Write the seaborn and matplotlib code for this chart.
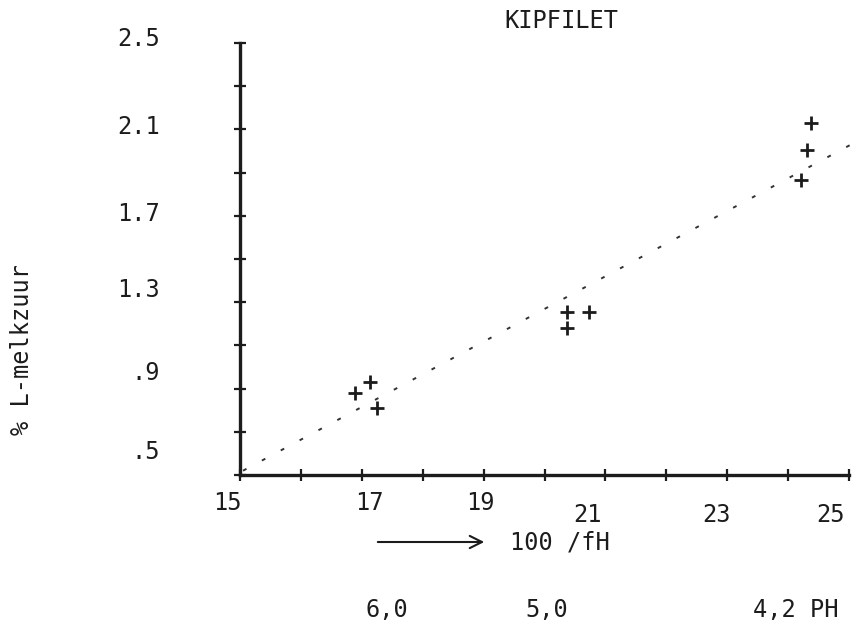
import matplotlib
matplotlib.use("Agg")
import matplotlib.pyplot as plt
import seaborn as sns
import pandas as pd

# ---- data ----
title = "KIPFILET"
x_points = [16.89, 17.13, 17.25, 20.37, 20.73, 20.37, 24.38, 24.31, 24.21]
y_points = [0.88, 0.93, 0.81, 1.255, 1.255, 1.18, 2.13, 2.005, 1.866]
line_x = [15.05, 25.1]
line_y = [0.52, 2.04]
x_ticks = [15, 16, 17, 18, 19, 20, 21, 22, 23, 24, 25]
x_tick_labels = ["15", "17", "19", "21", "23", "25"]
x_label_values = [15, 17, 19, 21, 23, 25]
y_ticks = [0.5, 0.7, 0.9, 1.1, 1.3, 1.5, 1.7, 1.9, 2.1, 2.3, 2.5]
y_tick_labels = ["2.5", "2.1", "1.7", "1.3", ".9", ".5"]
y_label_values = [2.5, 2.1, 1.7, 1.3, 0.9, 0.5]
ph_labels = ["6,0", "5,0", "4,2 PH"]
y_axis_label = "% L-melkzuur"
x_axis_label = "100 /fH"

# ---- layout (not data) ----
x_label_dx = [-0.21, 0.13, -0.06, -0.29, -0.17, -0.31]
x_label_y = [-0.065, -0.065, -0.065, -0.093, -0.093, -0.093]
y_label_dy = [0.02, 0.01, 0.01, 0.056, 0.07, 0.106]
ph_x = [0.4505, 0.6368, 0.9267]

sns.set_theme(style="white")
plt.rcParams["font.family"] = ["DejaVu Sans Mono"]
ink = "#1c1c1c"
fs = 17

fig = plt.figure(figsize=(8.59, 6.34), dpi=100)
ax = fig.add_axes([0.2794, 0.2508, 0.709, 0.6814])

pts = pd.DataFrame({"x": x_points, "y": y_points})
sns.scatterplot(data=pts, x="x", y="y", marker="+", s=90, linewidth=2.0,
                color=ink, ax=ax, clip_on=False, zorder=3)
ln = pd.DataFrame({"x": line_x, "y": line_y})
sns.lineplot(data=ln, x="x", y="y", ax=ax, color="#333333", linewidth=1.4,
             linestyle=(0, (2.0, 9.0)), clip_on=False)

ax.set_xlim(15, 25)
ax.set_ylim(0.5, 2.5)
ax.set_xticks(x_ticks)
ax.set_yticks(y_ticks)
ax.set_xticklabels([])
ax.set_yticklabels([])
ax.tick_params(axis="both", direction="inout", length=9, width=1.6, color=ink,
               bottom=True, left=True)
for s in ["top", "right"]:
    ax.spines[s].set_visible(False)
for s in ["left", "bottom"]:
    ax.spines[s].set_color(ink)
    ax.spines[s].set_linewidth(2.4)
ax.set_xlabel("")
ax.set_ylabel("")

xt = ax.get_xaxis_transform()
for lab, v, dx, yy in zip(x_tick_labels, x_label_values, x_label_dx, x_label_y):
    ax.text(v + dx, yy, lab, transform=xt, ha="center", va="center",
            fontsize=fs, color=ink)
yt = ax.get_yaxis_transform()
for lab, v, dy in zip(y_tick_labels, y_label_values, y_label_dy):
    ax.text(-0.131, v + dy, lab, transform=yt, ha="right", va="center",
            fontsize=fs, color=ink)

fig.text(0.654, 0.967, title, ha="center", va="center", fontsize=fs, color=ink)
fig.text(0.0256, 0.448, y_axis_label, rotation=90, ha="center", va="center",
         fontsize=fs, color=ink)
ax.annotate("", xy=(0.567, 0.1451), xytext=(0.4366, 0.1451),
            xycoords="figure fraction", textcoords="figure fraction",
            arrowprops=dict(arrowstyle="->", color=ink, lw=1.5,
                            mutation_scale=22))
fig.text(0.5937, 0.1451, x_axis_label, ha="left", va="center",
         fontsize=fs, color=ink)
for lab, px in zip(ph_labels, ph_x):
    fig.text(px, 0.0379, lab, ha="center", va="center", fontsize=fs, color=ink)

fig.savefig("out.png", dpi=100, facecolor="white")
